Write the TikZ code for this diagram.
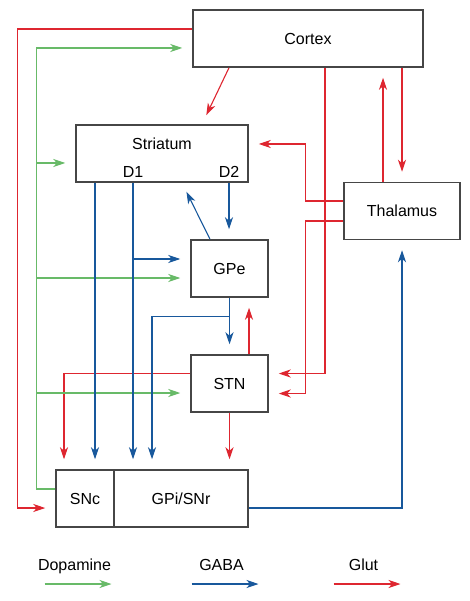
\documentclass[tikz,border=0pt]{standalone}
\usepackage{fontspec}
\setmainfont{Liberation Sans}
\usetikzlibrary{
    positioning,
    arrows.meta
}
\definecolor{dopacolor}{RGB}{104,186,104}
\definecolor{gabacolor}{RGB}{24,88,156}
\definecolor{glutcolor}{RGB}{222,38,48}
\definecolor{boxgray}{RGB}{70,70,70}
\tikzset{
    >={Stealth[length=12pt, width=8pt, inset=3.5pt]},
    nucleo/.style={
        draw=boxgray,
        line width=1.5pt,
        minimum height=57pt,
        inner sep=0pt
    },
    via/.style={->, line width=1.1pt, shorten >=10pt},
    dopa/.style={via, draw=dopacolor},
    gaba/.style={via, draw=gabacolor},
    glut/.style={via, draw=glutcolor}
}

\begin{document}
\begin{tikzpicture}[
    x=1pt, y=-1pt,
    font=\fontsize{16}{19}\selectfont
]
    \useasboundingbox (0,0) rectangle (470,601);

    % Nucleos
    \node[nucleo, minimum width=230pt] (cortex)   at (308,38.5)  {Cortex};
    \node[nucleo, minimum width=172pt] (striatum) at (162,153.5) {};
    \node[nucleo, minimum width=116pt] (thalamus) at (402,211)   {Thalamus};
    \node[nucleo, minimum width=77pt]  (gpe)      at (229.5,268.5) {GPe};
    \node[nucleo, minimum width=77pt]  (stn)      at (229.5,383.5) {STN};
    \node[nucleo, minimum width=58pt]  (snc)      at (85,498.5)  {SNc};
    \node[nucleo, minimum width=134pt] (gpi)      at (181,498.5) {GPi/SNr};

    \node[anchor=base] (striatumlbl) at (162,150) {Striatum};
    \node[anchor=base] (d1) at (133,178) {D1};
    \node[anchor=base] (d2) at (229,178) {D2};

    \coordinate (dop) at ([xshift=-19pt]snc.west);

    % Glutamato
    \draw[glut] ([yshift=9.5pt]cortex.west) -- ++(-175,0) |- ([yshift=-9.5pt]snc.west);
    \draw[glut] ([xshift=-79pt]cortex.south) -- ([xshift=40pt]striatum.north);
    \draw[glut] ([xshift=17pt]cortex.south) |- ([yshift=10pt]stn.east);
    \draw[glut] ([xshift=-19pt]thalamus.north) -- ([xshift=-19pt]thalamus.north |- cortex.south);
    \draw[glut] ([xshift=94pt]cortex.south) -- (thalamus.north);
    \draw[glut] ([yshift=10pt]thalamus.west) -- ++(-38,0) |- ([yshift=9.5pt]striatum.east);
    \draw[glut] ([yshift=-10pt]thalamus.west) -- ++(-38,0) |- ([yshift=-10pt]stn.east);
    \draw[glut] ([xshift=19.5pt]stn.north) -- ([xshift=19.5pt]gpe.south);
    \draw[glut] ([yshift=10pt]stn.west) -| ([xshift=-21pt]snc.north);
    \draw[glut] (stn.south) -- (stn.south |- gpi.north);

    % Dopamina
    \draw[dopa] ([yshift=9.5pt]snc.west) -- ([yshift=9.5pt]dop) |- ([yshift=-9.5pt]cortex.west);
    \draw[dopa] ([yshift=-9.5pt]striatum.west -| dop) -- ([yshift=-9.5pt]striatum.west);
    \draw[dopa] ([yshift=-9.5pt]gpe.west -| dop) -- ([yshift=-9.5pt]gpe.west);
    \draw[dopa] ([yshift=-9.5pt]stn.west -| dop) -- ([yshift=-9.5pt]stn.west);

    % GABA
    \draw[gaba] ([xshift=-67pt]striatum.south) -- ([xshift=-67pt]striatum.south |- snc.north);
    \draw[gaba] (d1 |- striatum.south) -- (d1 |- gpi.north);
    \draw[gaba] ([yshift=9.5pt]gpe.west -| d1) -- ([yshift=9.5pt]gpe.west);
    \draw[gaba] (d2 |- striatum.south) -- (d2 |- gpe.north);
    \draw[gaba] ([xshift=-19.5pt]gpe.north) -- ([xshift=20pt]striatum.south);
    \draw[gaba] (gpe.south) -- (stn.north);
    \draw[gaba] ([yshift=-19pt]gpe.south) -| ([xshift=-29pt]gpi.north);
    \draw[gaba] ([yshift=-9.5pt]gpi.east) -| (thalamus.south);

    % Leyenda
    \node[anchor=base] (ldopa) at (74.5,570)  {Dopamine};
    \node[anchor=base] (lgaba) at (221.5,570) {GABA};
    \node[anchor=base] (lglut) at (363.5,570) {Glut};
    \draw[dopa, shorten >=0pt] ([shift={(-30pt,-14pt)}]ldopa.base) -- ++(67,0);
    \draw[gaba, shorten >=0pt] ([shift={(-30pt,-14pt)}]lgaba.base) -- ++(67,0);
    \draw[glut, shorten >=0pt] ([shift={(-30pt,-14pt)}]lglut.base) -- ++(67,0);

\end{tikzpicture}
\end{document}
